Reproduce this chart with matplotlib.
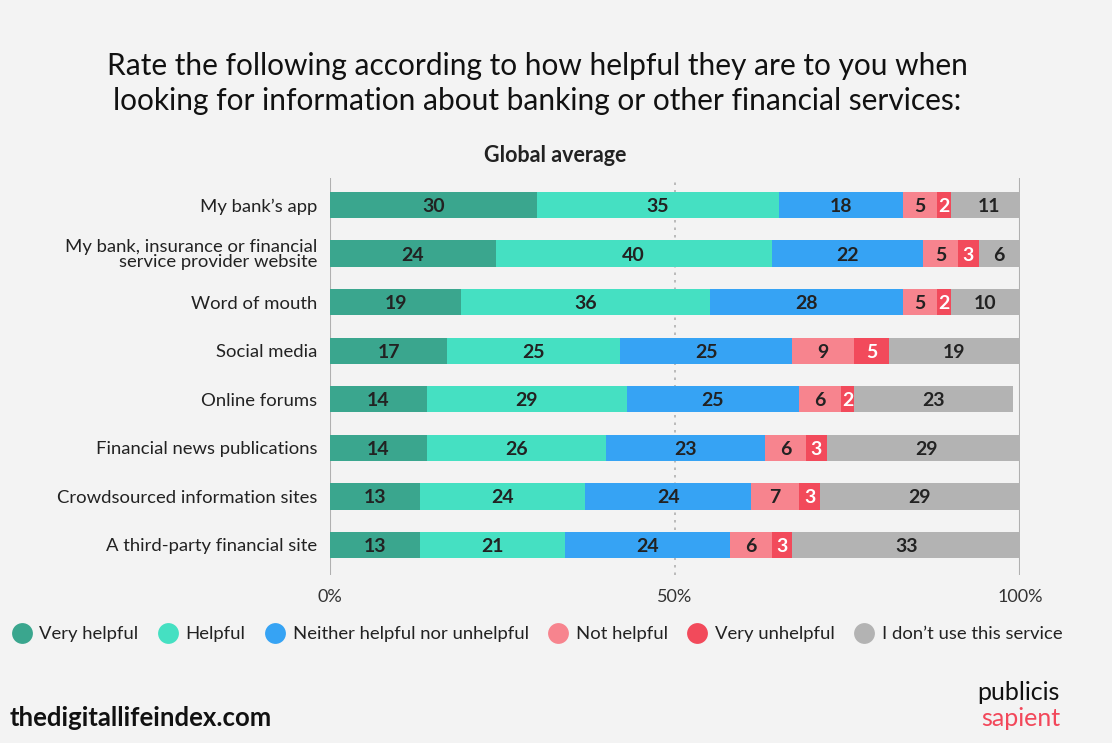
import matplotlib
matplotlib.use("Agg")
import matplotlib.pyplot as plt
from matplotlib.lines import Line2D
import numpy as np

plt.rcParams['font.family'] = ['Lato', 'DejaVu Sans']

categories = [
    "My bank\u2019s app",
    "My bank, insurance or financial\nservice provider website",
    "Word of mouth",
    "Social media",
    "Online forums",
    "Financial news publications",
    "Crowdsourced information sites",
    "A third-party financial site",
]
series_names = [
    "Very helpful",
    "Helpful",
    "Neither helpful nor unhelpful",
    "Not helpful",
    "Very unhelpful",
    "I don\u2019t use this service",
]
very_helpful = [30, 24, 19, 17, 14, 14, 13, 13]
helpful = [35, 40, 36, 25, 29, 26, 24, 21]
neither = [18, 22, 28, 25, 25, 23, 24, 24]
not_helpful = [5, 5, 5, 9, 6, 6, 7, 6]
very_unhelpful = [2, 3, 2, 5, 2, 3, 3, 3]
dont_use = [11, 6, 10, 19, 23, 29, 29, 33]
tick_values = [0, 50, 100]
tick_labels = ["0%", "50%", "100%"]

colors = ["#3aa68e", "#45e0c2", "#36a3f4", "#f7848e", "#f24a5b", "#b3b3b3"]
label_colors = ["#222222", "#222222", "#222222", "#222222", "white", "#222222"]
bg = "#f3f3f3"

fig = plt.figure(figsize=(11.12, 7.43), dpi=100, facecolor=bg)
W, H = 1112, 743
ax = fig.add_axes([330 / W, 1 - 575 / H, 690 / W, 397 / H], facecolor=bg)

y = np.arange(len(categories))
left = np.zeros(len(categories))
all_series = [very_helpful, helpful, neither, not_helpful, very_unhelpful, dont_use]
for vals, col, lcol in zip(all_series, colors, label_colors):
    vals = np.array(vals, dtype=float)
    ax.barh(y, vals, left=left, height=0.54, color=col, edgecolor="none", zorder=3)
    for yi, (l, v) in enumerate(zip(left, vals)):
        ax.text(l + v / 2, yi + 0.03, f"{int(v)}", ha="center", va="center",
                fontsize=14, fontweight="bold", color=lcol, zorder=4)
    left += vals

ax.set_xlim(0, 100)
unit = 48.57
ax.set_ylim(7 + 30 / unit, -27 / unit)

ax.axvline(0, color="#b0b0b0", lw=1.5, zorder=1)
ax.axvline(100, color="#b0b0b0", lw=1.5, zorder=1)
ax.axvline(50, color="#b0b0b0", lw=1.2, ls=(0, (1.5, 3)), zorder=1)

for s in ax.spines.values():
    s.set_visible(False)
ax.set_yticks(y)
ax.set_yticklabels(categories, fontsize=13.3, color="#222222", linespacing=0.95)
ax.set_xticks(tick_values)
ax.set_xticklabels(tick_labels, fontsize=13, color="#333333")
ax.tick_params(axis="y", length=0, pad=9)
ax.tick_params(axis="x", length=0, pad=10)

fig.text(537 / W, 1 - 66 / H,
         "Rate the following according to how helpful they are to you when",
         ha="center", va="center", fontsize=21.5, color="#111111")
fig.text(537 / W, 1 - 101 / H,
         "looking for information about banking or other financial services:",
         ha="center", va="center", fontsize=21.5, color="#111111")
fig.text(555 / W, 1 - 156 / H, "Global average", ha="center", va="center",
         fontsize=15.5, fontweight="bold", color="#222222")

handles = [Line2D([], [], marker="o", ls="none", markersize=15,
                  markerfacecolor=c, markeredgecolor="none") for c in colors]
fig.legend(handles, series_names, loc="center", bbox_to_anchor=(536 / W, 1 - 634 / H),
           ncol=6, frameon=False, fontsize=13.3, handletextpad=0.3,
           handlelength=1.3, columnspacing=0.95, labelcolor="#222222")

fig.text(10 / W, 1 - 718 / H, "thedigitallifeindex.com", ha="left", va="center",
         fontsize=18.5, fontweight="bold", color="#111111")
fig.text(1060 / W, 1 - 693 / H, "publicis", ha="right", va="center",
         fontsize=18, color="#111111")
fig.text(1060 / W, 1 - 718 / H, "sapient", ha="right", va="center",
         fontsize=18, color="#f2475a")

fig.savefig("out.png", dpi=100, facecolor=bg)
